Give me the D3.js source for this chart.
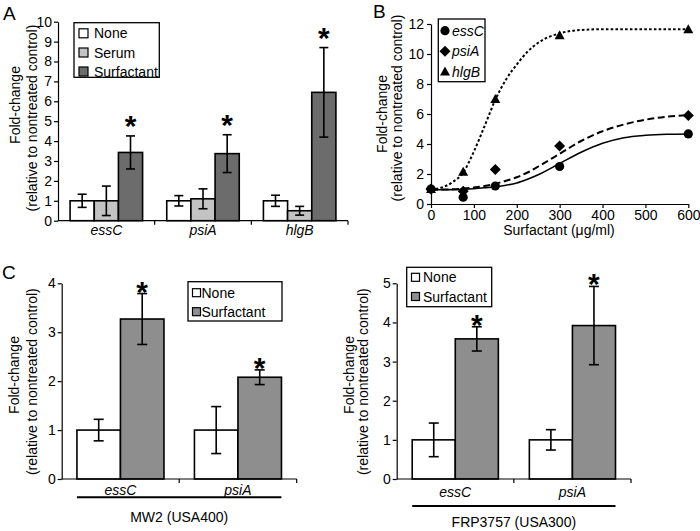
<!DOCTYPE html>
<html><head><meta charset="utf-8">
<script src="https://cdn.jsdelivr.net/npm/d3@7"></script>
<style>
body{margin:0;background:#fff}
svg{display:block}
text{font-family:"Liberation Sans",Arial,sans-serif;fill:#000}
</style>
</head><body>
<svg id="chart" width="700" height="531"></svg>
<script>
// ---------------- DATA ----------------
// Panel A
const genesA = ["essC", "psiA", "hlgB"];
const treatmentsA = ["None", "Serum", "Surfactant"];
const noneA = [1.0, 1.0, 1.0];
const noneErrA = [0.33, 0.26, 0.28];
const serumA = [1.0, 1.1, 0.5];
const serumErrA = [0.74, 0.5, 0.22];
const surfA = [3.43, 3.37, 6.45];
const surfErrA = [0.83, 0.95, 2.25];
const yTicksA = [0, 1, 2, 3, 4, 5, 6, 7, 8, 9, 10];

// Panel B
const dosesB = [0, 75, 150, 300, 600];
const essCB = [1.0, 0.45, 1.2, 2.5, 4.67];
const psiAB = [1.0, 0.85, 2.3, 3.87, 5.9];
const hlgBB = [1.0, 2.15, 7.0, 11.25, 11.65];
const fitDoseB = [0, 25, 50, 75, 100, 125, 150, 175, 200, 225, 250, 300, 350, 400, 450, 500, 550, 600];
const essCFitB = [0.95, 0.95, 0.96, 0.98, 1.02, 1.08, 1.15, 1.25, 1.4, 1.65, 1.95, 2.7, 3.45, 4.05, 4.42, 4.58, 4.65, 4.67];
const psiAFitB = [0.95, 0.96, 0.98, 1.02, 1.1, 1.2, 1.35, 1.55, 1.78, 2.1, 2.5, 3.35, 4.2, 4.85, 5.3, 5.62, 5.82, 5.93];
const hlgBFitB = [0.95, 1.1, 1.45, 2.1, 3.5, 5.2, 6.95, 8.3, 9.3, 10.15, 10.75, 11.38, 11.6, 11.65, 11.65, 11.65, 11.65, 11.65];
const yTicksB = [0, 2, 4, 6, 8, 10, 12];
const xTicksB = [0, 100, 200, 300, 400, 500, 600];

// Panel C
const genesC = ["essC", "psiA"];
const treatmentsC = ["None", "Surfactant"];
const strainsC = ["MW2 (USA400)", "FRP3757 (USA300)"];
const mw2None = [1.0, 1.0];
const mw2NoneErr = [0.22, 0.48];
const mw2Surf = [3.27, 2.08];
const mw2SurfErr = [0.52, 0.15];
const frpNone = [1.0, 1.0];
const frpNoneErr = [0.43, 0.26];
const frpSurf = [3.58, 3.92];
const frpSurfErr = [0.31, 1.0];
const yTicksC1 = [0, 1, 2, 3, 4];
const yTicksC2 = [0, 1, 2, 3, 4, 5];

// ---------------- DRAWING ----------------
const svg = d3.select("#chart");
const FONT = '"Liberation Sans", Arial, sans-serif';
const FS = 14;

function panelLabel(t, x, y) {
  svg.append("text").attr("x", x).attr("y", y).attr("font-size", 19).text(t);
}

function yTitle(x1, y1, x2, y2) {
  svg.append("text").attr("transform", `translate(${x1},${y1}) rotate(-90)`)
    .attr("text-anchor", "middle").attr("dominant-baseline", "central")
    .attr("font-size", FS).text("Fold-change");
  svg.append("text").attr("transform", `translate(${x2},${y2}) rotate(-90)`)
    .attr("text-anchor", "middle").attr("dominant-baseline", "central")
    .attr("font-size", FS).text("(relative to nontreated control)");
}

function styleAxis(g) {
  g.attr("font-family", FONT).attr("font-size", FS);
  g.selectAll("path,line").attr("stroke", "#000").attr("stroke-width", 1.2);
  g.selectAll("text").attr("fill", "#000");
}

function barPanel(cfg) {
  const y = d3.scaleLinear().domain([0, cfg.max]).range([cfg.yBot, cfg.yTop]);
  const xg = d3.scaleBand().domain(cfg.genes).range([cfg.x0, cfg.x1]).padding(0);
  const xs = d3.scaleBand().domain(cfg.series.map(s => s.name))
    .range([0, xg.bandwidth()]).paddingInner(0).paddingOuter(cfg.padOuter);

  const ga = svg.append("g").attr("transform", `translate(${cfg.x0},0)`)
    .call(d3.axisLeft(y).tickValues(cfg.ticks).tickFormat(d3.format("d"))
      .tickSize(4).tickSizeOuter(0).tickPadding(2));
  styleAxis(ga);

  const g = svg.append("g");
  cfg.series.forEach(s => {
    cfg.genes.forEach((gene, i) => {
      const bx = xg(gene) + xs(s.name);
      const bw = xs.bandwidth();
      g.append("rect").attr("x", bx).attr("y", y(s.vals[i]))
        .attr("width", bw).attr("height", y(0) - y(s.vals[i]))
        .attr("fill", s.fill).attr("stroke", "#000").attr("stroke-width", 1.6);
      const cx = bx + bw / 2;
      const top = y(s.vals[i] + s.errs[i]);
      const bot = y(s.vals[i] - s.errs[i]);
      g.append("line").attr("x1", cx).attr("x2", cx).attr("y1", top).attr("y2", bot)
        .attr("stroke", "#000").attr("stroke-width", 1.6);
      [top, bot].forEach(yy => g.append("line")
        .attr("x1", cx - cfg.cap / 2).attr("x2", cx + cfg.cap / 2)
        .attr("y1", yy).attr("y2", yy).attr("stroke", "#000").attr("stroke-width", 1.6));
      if (s.star) {
        const center = top - cfg.starGap;
        g.append("text").attr("x", cx).attr("y", center + 0.6 * cfg.starFs)
          .attr("text-anchor", "middle").attr("font-weight", "bold")
          .attr("font-size", cfg.starFs).text("*");
      }
    });
  });

  svg.append("line").attr("x1", cfg.x0).attr("x2", cfg.x1)
    .attr("y1", cfg.yBot).attr("y2", cfg.yBot).attr("stroke", "#000").attr("stroke-width", 1.2);
  cfg.genes.forEach(gene => {
    const tx = xg(gene) + xg.bandwidth();
    svg.append("line").attr("x1", tx).attr("x2", tx).attr("y1", cfg.yBot).attr("y2", cfg.yBot + 4)
      .attr("stroke", "#000").attr("stroke-width", 1.2);
    svg.append("text").attr("x", xg(gene) + xg.bandwidth() / 2).attr("y", cfg.catY)
      .attr("text-anchor", "middle").attr("font-style", "italic").attr("font-size", FS).text(gene);
  });

  const L = cfg.legend;
  svg.append("rect").attr("x", L.x).attr("y", L.y).attr("width", L.w).attr("height", L.h)
    .attr("fill", "#fff").attr("stroke", "#000").attr("stroke-width", 1.3);
  cfg.series.forEach((s, i) => {
    const cy = L.rowY[i];
    svg.append("rect").attr("x", L.sqX).attr("y", cy - L.sq / 2).attr("width", L.sq).attr("height", L.sq)
      .attr("fill", s.fill).attr("stroke", "#000").attr("stroke-width", 1.2);
    svg.append("text").attr("x", L.textX).attr("y", cy).attr("dominant-baseline", "central")
      .attr("font-size", FS).text(s.name);
  });

  if (cfg.strain) {
    const first = xg(cfg.genes[0]) + xs(cfg.series[0].name);
    const lastG = cfg.genes[cfg.genes.length - 1];
    const last = xg(lastG) + xs(cfg.series[cfg.series.length - 1].name) + xs.bandwidth();
    svg.append("line").attr("x1", first).attr("x2", last).attr("y1", cfg.strainLineY).attr("y2", cfg.strainLineY)
      .attr("stroke", "#000").attr("stroke-width", 2);
    svg.append("text").attr("x", (first + last) / 2).attr("y", cfg.strainTextY)
      .attr("text-anchor", "middle").attr("font-size", FS).text(cfg.strain);
  }
}

// ---- Panel A ----
panelLabel("A", 3, 20);
yTitle(15, 105, 32, 118);
barPanel({
  x0: 58, x1: 348, yTop: 21.7, yBot: 220.7, max: 10, ticks: yTicksA, genes: genesA,
  padOuter: 0.5, cap: 9, starFs: 30, starGap: 17.5, catY: 235,
  series: [
    { name: treatmentsA[0], vals: noneA, errs: noneErrA, fill: "#ffffff", star: false },
    { name: treatmentsA[1], vals: serumA, errs: serumErrA, fill: "#c3c3c3", star: false },
    { name: treatmentsA[2], vals: surfA, errs: surfErrA, fill: "#6c6c6c", star: true }
  ],
  legend: { x: 74, y: 22.7, w: 85.3, h: 54.6, rowY: [33.3, 52.5, 71.5], sqX: 79, sq: 9, textX: 94 }
});

// ---- Panel B ----
panelLabel("B", 373, 18);
yTitle(381.7, 114, 397.3, 108);
(function () {
  const x = d3.scaleLinear().domain([0, 600]).range([431, 688.3]);
  const y = d3.scaleLinear().domain([0, 12]).range([204, 24]);
  const gy = svg.append("g").attr("transform", "translate(431,0)")
    .call(d3.axisLeft(y).tickValues(yTicksB).tickSize(4).tickSizeOuter(0).tickPadding(3));
  styleAxis(gy);
  const gx = svg.append("g").attr("transform", "translate(0,204)")
    .call(d3.axisBottom(x).tickValues(xTicksB).tickSize(4).tickSizeOuter(0).tickPadding(2));
  styleAxis(gx);
  svg.append("text").attr("x", 559).attr("y", 235).attr("text-anchor", "middle")
    .attr("font-size", FS).text("Surfactant (\u03bcg/ml)");

  const line = d3.line().x(d => x(d[0])).y(d => y(d[1])).curve(d3.curveMonotoneX);
  const fits = [
    { v: essCFitB, dash: null },
    { v: psiAFitB, dash: "7,3.5" },
    { v: hlgBFitB, dash: "2.6,2.2" }
  ];
  fits.forEach(f => {
    svg.append("path").datum(fitDoseB.map((d, i) => [d, f.v[i]]))
      .attr("d", line).attr("fill", "none").attr("stroke", "#000")
      .attr("stroke-width", f.dash ? 2 : 1.6)
      .attr("stroke-dasharray", f.dash);
  });

  const circle = (g, cx, cy) => g.append("circle").attr("cx", cx).attr("cy", cy).attr("r", 4.6).attr("fill", "#000");
  const diamond = (g, cx, cy) => g.append("path").attr("d", `M${cx},${cy - 5.5}L${cx + 5.5},${cy}L${cx},${cy + 5.5}L${cx - 5.5},${cy}Z`).attr("fill", "#000");
  const tri = (g, cx, cy) => g.append("path").attr("d", `M${cx},${cy - 5}L${cx + 5},${cy + 4}L${cx - 5},${cy + 4}Z`).attr("fill", "#000");
  const gm = svg.append("g");
  dosesB.forEach((d, i) => tri(gm, x(d), y(hlgBB[i])));
  dosesB.forEach((d, i) => diamond(gm, x(d), y(psiAB[i])));
  dosesB.forEach((d, i) => circle(gm, x(d), y(essCB[i])));

  svg.append("rect").attr("x", 438.3).attr("y", 19).attr("width", 46.7).attr("height", 62.7)
    .attr("fill", "#fff").attr("stroke", "#000").attr("stroke-width", 1.3);
  const names = ["essC", "psiA", "hlgB"];
  const rows = [30.7, 51.3, 71.5];
  circle(svg, 445, rows[0]);
  diamond(svg, 445, rows[1]);
  tri(svg, 445, rows[2]);
  names.forEach((n, i) => svg.append("text").attr("x", 452).attr("y", rows[i])
    .attr("dominant-baseline", "central").attr("font-style", "italic").attr("font-size", FS).text(n));
})();

// ---- Panel C ----
panelLabel("C", 2, 279);
yTitle(14, 375, 31.7, 381.7);
barPanel({
  x0: 61.7, x1: 296.7, yTop: 283.3, yBot: 479, max: 4, ticks: yTicksC1, genes: genesC,
  padOuter: 0.35, cap: 10, starFs: 30, starGap: 10, catY: 495,
  series: [
    { name: treatmentsC[0], vals: mw2None, errs: mw2NoneErr, fill: "#ffffff", star: false },
    { name: treatmentsC[1], vals: mw2Surf, errs: mw2SurfErr, fill: "#8e8e8e", star: true }
  ],
  legend: { x: 188, y: 281.7, w: 94, h: 39.3, rowY: [292.7, 311.7], sqX: 192.5, sq: 8, textX: 201.5 },
  strain: strainsC[0], strainLineY: 497.3, strainTextY: 522
});

yTitle(349, 375, 363.3, 381.7);
barPanel({
  x0: 396.7, x1: 631, yTop: 283.3, yBot: 479, max: 5, ticks: yTicksC2, genes: genesC,
  padOuter: 0.36, cap: 10, starFs: 30, starGap: 10, catY: 496.5,
  series: [
    { name: treatmentsC[0], vals: frpNone, errs: frpNoneErr, fill: "#ffffff", star: false },
    { name: treatmentsC[1], vals: frpSurf, errs: frpSurfErr, fill: "#8e8e8e", star: true }
  ],
  legend: { x: 406.7, y: 267.3, w: 85, h: 39.4, rowY: [277.3, 296.5], sqX: 411.5, sq: 8, textX: 423 },
  strain: strainsC[1], strainLineY: 506, strainTextY: 527
});
</script>
</body></html>
